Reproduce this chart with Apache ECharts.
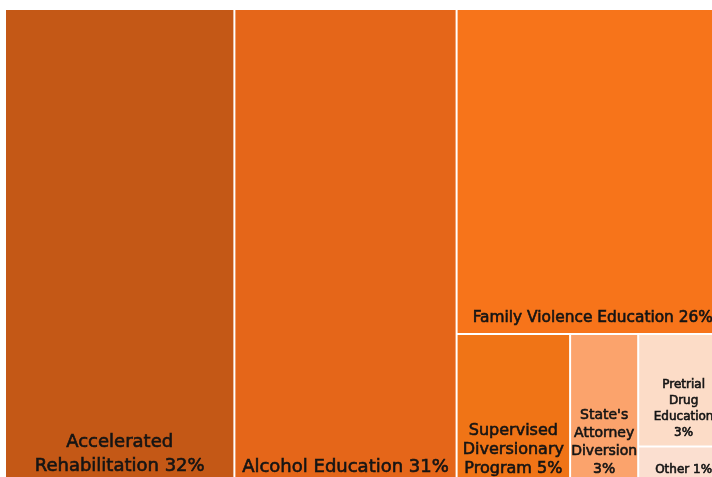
<!DOCTYPE html>
<html>
<head>
<meta charset="utf-8">
<title>Diversion programs</title>
<script src="https://cdn.jsdelivr.net/npm/echarts@6/dist/echarts.min.js"></script>
<style>
  html, body { margin: 0; padding: 0; background: #ffffff; }
  #chart { width: 712px; height: 477px; }
</style>
</head>
<body>
<div id="chart"></div>
<script>
// Program names (line breaks are where each tile's label wraps;
// a trailing break puts the share on its own line).
// The treemap sorts by value and, on ties, places the later entry first,
// so Pretrial is listed before State's to lay State's out first.
const categories = [
  'Accelerated\nRehabilitation',
  'Alcohol Education',
  'Family Violence Education',
  'Supervised\nDiversionary\nProgram',
  'Pretrial\nDrug\nEducation\n',
  "State's\nAttorney\nDiversion\n",
  'Other'
];

// Share of participants, percent
const shares = [32, 31, 26, 5, 3, 3, 1];

// Tile fills
const tileColors = ['#C45816', '#E56619', '#F7741A', '#F07416', '#FCDCC7', '#FBA36C', '#FBDFD0'];

// Label type sizes and line spacing per tile
const labelSizes = [18, 18, 15.4, 16, 12, 14, 12];
const labelLineHeights = [24, 22, 20, 19, 16, 18, 16];

const chart = echarts.init(document.getElementById('chart'), null, { renderer: 'canvas' });

const tiles = categories.map((name, i) => ({
  name: name,
  value: shares[i],
  itemStyle: { color: tileColors[i] },
  label: { fontSize: labelSizes[i], lineHeight: labelLineHeights[i] }
}));

chart.setOption({
  animation: false,
  series: [{
    type: 'treemap',
    left: 6,
    top: 10,
    width: 722,
    height: 473,
    squareRatio: 0.5,
    roam: false,
    nodeClick: false,
    breadcrumb: { show: false },
    levels: [{
      itemStyle: { gapWidth: 2, borderWidth: 0, borderColor: '#ffffff' }
    }],
    label: {
      show: true,
      position: 'insideBottom',
      distance: 5,
      padding: 0,
      overflow: 'none',
      color: '#141414',
      textBorderColor: '#141414',
      textBorderWidth: 0.6,
      fontFamily: 'DejaVu Sans',
      formatter: function (p) {
        const sep = p.name.endsWith('\n') ? '' : ' ';
        return p.name + sep + p.value + '%';
      }
    },
    emphasis: { disabled: true },
    data: tiles
  }]
});
</script>
</body>
</html>
